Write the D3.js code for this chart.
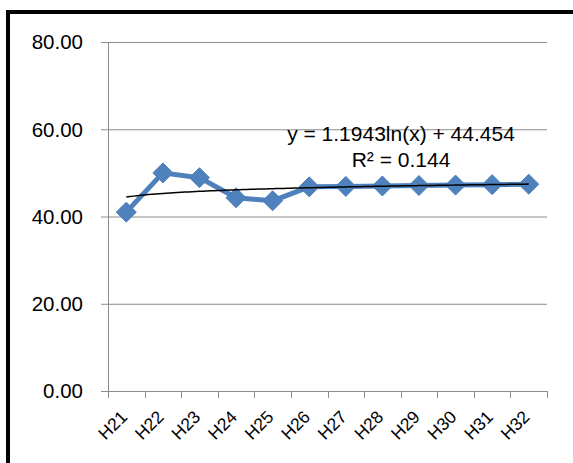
<!DOCTYPE html>
<html lang="en">
<head>
<meta charset="UTF-8">
<title>H21-H32 trend</title>
<style>
  body { margin: 0; overflow: hidden; background: #fff; }
  svg  { display: block; }
  text { font-family: "Liberation Sans", Arial, sans-serif; fill: #000; }
  .grid line { stroke: #8c8c8c; stroke-width: 1; }
</style>
</head>
<body>
<svg id="chart" width="573" height="463"></svg>
<script src="https://d3js.org/d3.v7.min.js"></script>
<script>
/* ---------------- Data ---------------- */
const categories = ['H21','H22','H23','H24','H25','H26','H27','H28','H29','H30','H31','H32'];
const values     = [41.0, 50.0, 48.9, 44.3, 43.6, 46.8, 46.9, 47.0, 47.1, 47.2, 47.3, 47.4];
const yTicks     = [0, 20, 40, 60, 80];
// log trendline y = a*ln(x) + b, as printed on the chart
const trendA = 1.1943, trendB = 44.454;
const trendLabel = ['y = 1.1943ln(x) + 44.454', 'R\u00B2 = 0.144'];

/* ---------------- Layout ---------------- */
const svg = d3.select('#chart');
const plot = { left: 108, right: 547, top: 42, bottom: 391 };

// outer chart frame (runs past the right / bottom of the window)
svg.append('rect')
  .attr('x', 8).attr('y', 12)
  .attr('width', 600).attr('height', 500)
  .attr('fill', 'none').attr('stroke', '#000').attr('stroke-width', 4);

const x = d3.scaleBand().domain(categories).range([plot.left, plot.right]);
const y = d3.scaleLinear().domain([0, 80]).range([plot.bottom, plot.top]);

/* ---------------- Grid + value axis ---------------- */
const grid = svg.append('g').attr('class', 'grid');
grid.selectAll('line.h')
  .data(yTicks)
  .enter().append('line')
    .attr('class', 'h')
    .attr('x1', plot.left - 7).attr('x2', plot.right)
    .attr('y1', d => y(d) + 0.5).attr('y2', d => y(d) + 0.5);

grid.append('line')
  .attr('x1', plot.left + 0.5).attr('x2', plot.left + 0.5)
  .attr('y1', plot.top).attr('y2', plot.bottom);

// category tick marks
const catTicks = categories.map(c => x(c)).concat([plot.right]);
grid.selectAll('line.t')
  .data(catTicks)
  .enter().append('line')
    .attr('class', 't')
    .attr('x1', d => Math.round(d) + 0.5).attr('x2', d => Math.round(d) + 0.5)
    .attr('y1', plot.bottom).attr('y2', plot.bottom + 7);

svg.append('g').selectAll('text')
  .data(yTicks)
  .enter().append('text')
    .attr('x', 83).attr('y', d => y(d))
    .attr('dy', '0.36em')
    .attr('text-anchor', 'end')
    .style('font-size', '20.5px')
    .text(d => d.toFixed(2));

/* ---------------- Category labels ---------------- */
svg.append('g').selectAll('text')
  .data(categories)
  .enter().append('text')
    .attr('text-anchor', 'end')
    .attr('transform', d => `translate(${x(d) + x.bandwidth() / 2 + 2},${plot.bottom + 27}) rotate(-45)`)
    .style('font-size', '17.5px')
    .text(d => d);

/* ---------------- Series ---------------- */
const cx = d => x(d) + x.bandwidth() / 2;
const pts = categories.map((c, i) => [cx(c), y(values[i])]);

svg.append('path')
  .attr('d', d3.line()(pts))
  .attr('fill', 'none')
  .attr('stroke', '#4F81BD')
  .attr('stroke-width', 5)
  .attr('stroke-linejoin', 'round');

svg.append('g').selectAll('path')
  .data(pts)
  .enter().append('path')
    .attr('transform', d => `translate(${d[0]},${d[1]})`)
    .attr('d', 'M0,-10L10,0L0,10L-10,0Z')
    .attr('fill', '#4F81BD')
    .attr('stroke', '#4A7EBB')
    .attr('stroke-width', 1);

/* ---------------- Trendline ---------------- */
const trendPts = d3.range(1, categories.length + 0.001, 0.1)
  .map(t => [
    cx(categories[0]) + (t - 1) * x.step(),
    y(trendA * Math.log(t) + trendB)
  ]);

svg.append('path')
  .attr('d', d3.line()(trendPts))
  .attr('fill', 'none')
  .attr('stroke', '#000')
  .attr('stroke-width', 1.5);

/* ---------------- Trend label ---------------- */
svg.append('g').selectAll('text')
  .data(trendLabel)
  .enter().append('text')
    .attr('x', 401).attr('y', (d, i) => 141 + i * 26)
    .attr('text-anchor', 'middle')
    .style('font-size', '21px')
    .text(d => d);
</script>
</body>
</html>
